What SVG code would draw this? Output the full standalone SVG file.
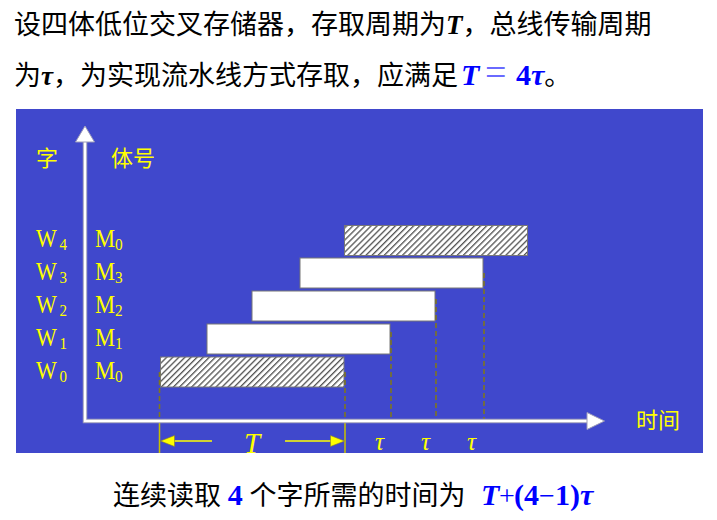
<svg xmlns="http://www.w3.org/2000/svg" width="717" height="520" viewBox="0 0 717 520">
<defs>
<style>
.cn{font-family:"Liberation Serif","Noto Sans CJK SC",serif;font-size:27px;fill:#000}
.it{font-family:"Liberation Serif",serif;font-style:italic;font-weight:bold}
.m{font-family:"Liberation Serif",serif;font-size:30px;font-weight:bold;fill:#0000ff}
.mi{font-style:italic}
.op{font-family:"Liberation Serif",serif;font-size:28px;font-weight:normal;fill:#0000ff}
.eq{font-family:"Liberation Serif",serif;font-size:38px;font-weight:normal;fill:#6a6aff}
.lbl{font-family:"Liberation Serif",serif;font-size:25px;fill:#ffff00}
.sub{font-size:17px}
.ycn{font-family:"Noto Sans CJK SC",sans-serif;font-size:22px;fill:#ffff00}
.tau{font-family:"Liberation Serif",serif;font-style:italic;font-size:25px;fill:#ffff00}
.bar{fill:#ffffff;stroke:#777;stroke-width:1}
.hbar{fill:url(#hatch);stroke:#777;stroke-width:1}
.dash{stroke:#7e7620;stroke-width:1.6;stroke-dasharray:5,3;fill:none}
.solid{stroke:#c8c000;stroke-width:1.5;fill:none}
.ax1{stroke:#9a9ab8;stroke-width:4.5;fill:none}
.ax2{stroke:#ffffff;stroke-width:2.5;fill:none}
.yl{stroke:#ffff00;stroke-width:1.6;fill:none}
</style>
<pattern id="hatch" patternUnits="userSpaceOnUse" width="4.3" height="4.3" patternTransform="rotate(45)">
<rect width="4.3" height="4.3" fill="#ffffff"/>
<line x1="0.7" y1="0" x2="0.7" y2="4.3" stroke="#333" stroke-width="1.1"/>
</pattern>
</defs>

<g id="title">
<text class="cn" x="14" y="34">设四体低位交叉存储器，存取周期为<tspan class="it">T</tspan>，总线传输周期</text>
<text class="cn" x="14" y="85">为<tspan class="it">τ</tspan>，为实现流水线方式存取，应满足<tspan class="m mi" x="461">T</tspan><tspan class="eq" x="485">=</tspan><tspan class="m" x="516">4</tspan><tspan class="m mi">τ</tspan>。</text>
</g>

<rect id="panel" x="16" y="109" width="687" height="344" fill="#4048cc"/>

<g id="bars">
<rect id="bar-w0" class="hbar" x="160.5" y="357" width="183.5" height="30"/>
<rect id="bar-w1" class="bar" x="207" y="324" width="183" height="30"/>
<rect id="bar-w2" class="bar" x="252" y="291" width="183" height="30"/>
<rect id="bar-w3" class="bar" x="300" y="258" width="183" height="30"/>
<rect id="bar-w4" class="hbar" x="344.5" y="225.5" width="183" height="30"/>
</g>

<g id="connectors">
<line class="dash" x1="159.5" y1="372" x2="159.5" y2="420"/>
<line class="dash" x1="345" y1="372" x2="345" y2="420"/>
<line class="dash" x1="391" y1="332" x2="391" y2="420"/>
<line class="dash" x1="436" y1="299" x2="436" y2="420"/>
<line class="dash" x1="484" y1="273" x2="484" y2="420"/>
<line class="solid" x1="159.5" y1="421" x2="159.5" y2="453"/>
<line class="solid" x1="345" y1="421" x2="345" y2="453"/>
<path class="ax1" d="M85,140 V421 H589"/>
<path class="ax2" d="M85,140 V421 H589"/>
<polygon points="85,126 94.5,142 75.5,142" fill="#fff" stroke="#9a9ab8" stroke-width="1"/>
<polygon points="604.5,421 587,412.5 587,429.5" fill="#fff" stroke="#9a9ab8" stroke-width="1"/>
<line class="yl" x1="212" y1="441" x2="172" y2="441"/>
<polygon points="160.5,441 174.5,435.5 174.5,446.5" fill="#ffff00" stroke="#8a8222" stroke-width="0.6"/>
<line class="yl" x1="285" y1="441" x2="332" y2="441"/>
<polygon points="344.5,441 330.5,435.5 330.5,446.5" fill="#ffff00" stroke="#8a8222" stroke-width="0.6"/>
</g>

<g id="labels">
<text class="ycn" x="36" y="166">字</text>
<text class="ycn" x="111" y="166">体号</text>
<text class="ycn" x="636" y="428">时间</text>
<text class="lbl" transform="translate(36,247) scale(0.88,1)">W<tspan class="sub" dx="3" dy="2.5">4</tspan></text>
<text class="lbl" transform="translate(36,280) scale(0.88,1)">W<tspan class="sub" dx="3" dy="2.5">3</tspan></text>
<text class="lbl" transform="translate(36,313) scale(0.88,1)">W<tspan class="sub" dx="3" dy="2.5">2</tspan></text>
<text class="lbl" transform="translate(36,346) scale(0.88,1)">W<tspan class="sub" dx="3" dy="2.5">1</tspan></text>
<text class="lbl" transform="translate(36,379) scale(0.88,1)">W<tspan class="sub" dx="3" dy="2.5">0</tspan></text>
<text class="lbl" transform="translate(95,247) scale(0.9,1)">M<tspan class="sub" dy="2.5">0</tspan></text>
<text class="lbl" transform="translate(95,280) scale(0.9,1)">M<tspan class="sub" dy="2.5">3</tspan></text>
<text class="lbl" transform="translate(95,313) scale(0.9,1)">M<tspan class="sub" dy="2.5">2</tspan></text>
<text class="lbl" transform="translate(95,346) scale(0.9,1)">M<tspan class="sub" dy="2.5">1</tspan></text>
<text class="lbl" transform="translate(95,379) scale(0.9,1)">M<tspan class="sub" dy="2.5">0</tspan></text>
<text x="244" y="453" font-family="Liberation Serif" font-style="italic" font-size="29" fill="#ffff00">T</text>
<text class="tau" x="375" y="450">τ</text>
<text class="tau" x="421" y="450">τ</text>
<text class="tau" x="467" y="450">τ</text>
</g>

<g id="formula">
<text class="cn" x="113" y="505">连续读取 <tspan class="m" font-size="28">4</tspan> 个字所需的时间为<tspan class="m mi" x="481">T</tspan><tspan class="op" x="499">+</tspan><tspan class="m" x="514">(4</tspan><tspan class="op" x="539">−</tspan><tspan class="m" x="555">1)</tspan><tspan class="m mi">τ</tspan></text>
</g>
</svg>
